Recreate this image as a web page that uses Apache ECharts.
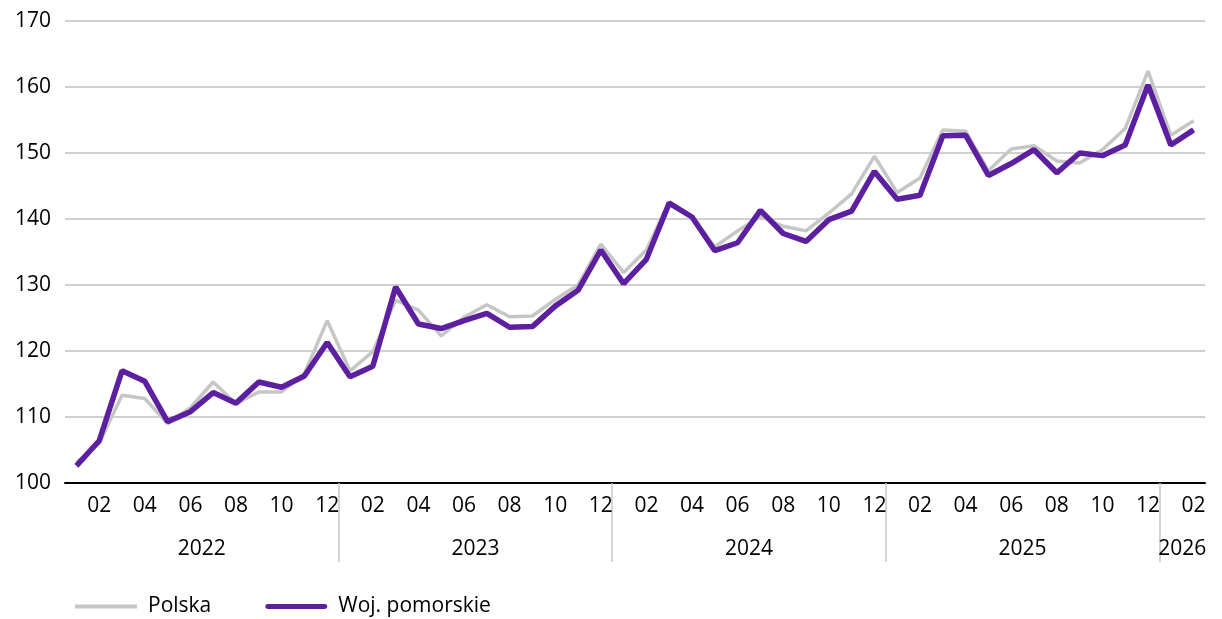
<!DOCTYPE html>
<html>
<head>
<meta charset="utf-8">
<script src="https://cdn.jsdelivr.net/npm/echarts@6/dist/echarts.min.js"></script>
<style>
  html, body { margin: 0; padding: 0; background: #fff; }
  #chart { width: 1222px; height: 619px; }
</style>
</head>
<body>
<div id="chart"></div>
<script>
// ── dane ──
const months = [
  '2022-01','2022-02','2022-03','2022-04','2022-05','2022-06','2022-07','2022-08','2022-09','2022-10','2022-11','2022-12',
  '2023-01','2023-02','2023-03','2023-04','2023-05','2023-06','2023-07','2023-08','2023-09','2023-10','2023-11','2023-12',
  '2024-01','2024-02','2024-03','2024-04','2024-05','2024-06','2024-07','2024-08','2024-09','2024-10','2024-11','2024-12',
  '2025-01','2025-02','2025-03','2025-04','2025-05','2025-06','2025-07','2025-08','2025-09','2025-10','2025-11','2025-12',
  '2026-01','2026-02',
]

const polska = [
  103.1, 106.0, 113.3, 112.8, 109.0, 111.4, 115.3, 112.0, 113.8, 113.8, 116.6, 124.6,
  117.0, 119.9, 127.7, 126.2, 122.3, 125.1, 127.0, 125.2, 125.3, 127.8, 130.0, 136.2,
  131.9, 135.3, 142.6, 140.4, 135.8, 138.2, 140.4, 138.9, 138.2, 140.9, 143.8, 149.5,
  144.0, 146.2, 153.5, 153.3, 147.3, 150.6, 151.1, 148.8, 148.5, 150.5, 153.7, 162.4,
  152.7, 154.9,
]

const pomorskie = [
  102.6, 106.4, 117.0, 115.4, 109.3, 110.8, 113.7, 112.1, 115.3, 114.5, 116.2, 121.3,
  116.1, 117.7, 129.7, 124.1, 123.4, 124.6, 125.7, 123.6, 123.7, 126.8, 129.2, 135.3,
  130.2, 133.9, 142.4, 140.3, 135.2, 136.4, 141.3, 137.8, 136.6, 139.9, 141.2, 147.2,
  143.0, 143.6, 152.6, 152.7, 146.6, 148.4, 150.5, 147.0, 150.0, 149.6, 151.2, 160.3,
  151.2, 153.5,
]

const yTicks = [100, 110, 120, 130, 140, 150, 160, 170]

// ── kolory ──
const GRAY = '#c6c6c6'
const PURPLE = '#5b1f9f'
const FONT = "'Open Sans', 'Noto Sans', sans-serif"
const FS = 21

// lata: środek i granice wyliczone z listy miesięcy
const yearStart = {}
months.forEach((m, i) => {
  const y = m.slice(0, 4)
  if (!(y in yearStart)) yearStart[y] = { start: i, count: 0 }
  yearStart[y].count++
})
const years = Object.keys(yearStart)
const yearCenter = years.map(y => yearStart[y].start + yearStart[y].count / 2)
const yearBounds = years.slice(1).map(y => yearStart[y].start)

const chart = echarts.init(document.getElementById('chart'), undefined, { renderer: 'canvas' })

chart.setOption({
  backgroundColor: '#fff',
  animation: false,
  textStyle: { fontFamily: FONT, color: '#000' },
  grid: { left: 65, right: 17, top: 21, bottom: 136 },
  legend: {
    left: 70, top: 591,
    itemWidth: 62, itemHeight: 16, itemGap: 54,
    textStyle: { fontFamily: FONT, fontSize: FS, color: '#000', padding: [0, 0, 0, 6] },
    data: [
      { name: 'Polska', icon: 'path://M0,6 L62,6 L62,10 L0,10 Z' },
      { name: 'Woj. pomorskie', icon: 'path://M2,5.5 L60,5.5 A2.5,2.5 0 0 1 60,10.5 L2,10.5 A2.5,2.5 0 0 1 2,5.5 Z' },
    ],
  },
  xAxis: [
    {
      type: 'category', data: months, boundaryGap: true,
      axisLine: { lineStyle: { color: '#000', width: 2 } },
      axisTick: { show: false },
      axisLabel: {
        interval: (idx) => idx % 2 === 1,
        formatter: (v) => v.slice(5),
        fontFamily: FONT, fontSize: FS, color: '#000', margin: 13,
      },
      splitLine: { show: false },
    },
    {
      type: 'value', position: 'bottom', min: 0, max: months.length,
      axisLine: { show: false },
      splitLine: { show: false },
      axisTick: {
        show: true, customValues: yearBounds, length: 79,
        lineStyle: { color: '#c8c8c8', width: 1.5 },
      },
      axisLabel: {
        customValues: yearCenter,
        formatter: (v) => years[yearCenter.indexOf(v)] || '',
        fontFamily: FONT, fontSize: FS, color: '#000', margin: 56,
      },
    },
  ],
  yAxis: {
    type: 'value', min: yTicks[0], max: yTicks[yTicks.length - 1], interval: 10,
    axisLine: { show: false }, axisTick: { show: false },
    axisLabel: { fontFamily: FONT, fontSize: FS, color: '#000', margin: 14 },
    splitLine: { lineStyle: { color: '#c0c0c0', width: 1.5 } },
  },
  series: [
    {
      name: 'Polska', type: 'line', data: polska, xAxisIndex: 0,
      symbol: 'none', lineStyle: { color: GRAY, width: 3.5 }, itemStyle: { color: GRAY },
    },
    {
      name: 'Woj. pomorskie', type: 'line', data: pomorskie, xAxisIndex: 0,
      symbol: 'none', lineStyle: { color: PURPLE, width: 5.5 }, itemStyle: { color: PURPLE },
    },
  ],
})
</script>
</body>
</html>
